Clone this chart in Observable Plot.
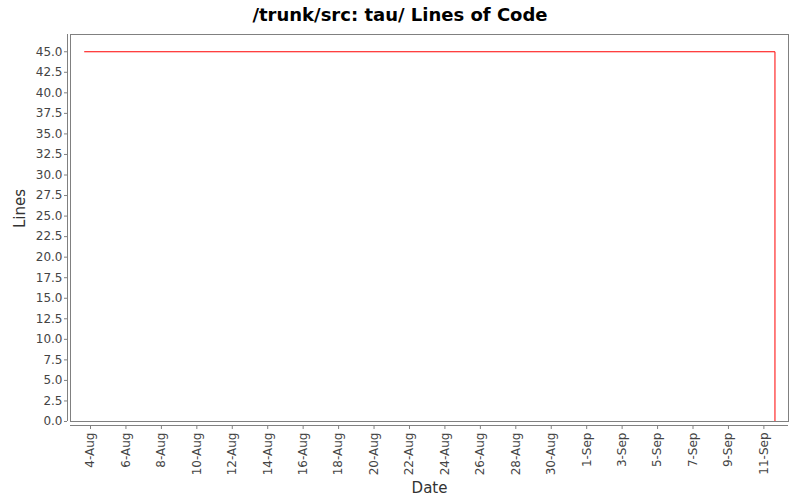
<!DOCTYPE html>
<html>
<head>
<meta charset="utf-8">
<script src="https://cdn.jsdelivr.net/npm/d3@7"></script>
<script src="https://cdn.jsdelivr.net/npm/@observablehq/plot@0.6"></script>
<style>
  html, body { margin: 0; padding: 0; background: #fff; }
  #title { box-sizing: border-box; height: 28px; padding-top: 4px; line-height: 24px; text-align: center; font: bold 18px "DejaVu Sans", sans-serif; color: #000; }
  #chart svg { display: block; }
</style>
</head>
<body>
<div id="title">/trunk/src: tau/ Lines of Code</div>
<div id="chart"></div>
<script>
// Data
const commitDates = ["2008-08-03T16:00:00Z", "2008-09-11T15:00:00Z"];
const linesOfCode = [45, 0];
const tickDates = ["2008-08-04","2008-08-06","2008-08-08","2008-08-10","2008-08-12","2008-08-14",
  "2008-08-16","2008-08-18","2008-08-20","2008-08-22","2008-08-24","2008-08-26","2008-08-28",
  "2008-08-30","2008-09-01","2008-09-03","2008-09-05","2008-09-07","2008-09-09","2008-09-11"];
const yTicks = [0,2.5,5,7.5,10,12.5,15,17.5,20,22.5,25,27.5,30,32.5,35,37.5,40,42.5,45];
const xDomain = ["2008-08-02T20:54:00Z", "2008-09-12T09:20:00Z"];
const yDomain = [0, 47.1];

const data = commitDates.map((d, i) => ({date: new Date(d), loc: linesOfCode[i]}));
const xd = xDomain.map(d => new Date(d));

const chart = Plot.plot({
  width: 800,
  height: 472,
  marginLeft: 70,
  marginRight: 12,
  marginTop: 6,
  marginBottom: 79,
  style: {fontFamily: "DejaVu Sans, sans-serif", fontSize: "12px", color: "#444", background: "#fff"},
  x: {type: "utc", domain: xd},
  y: {domain: yDomain},
  marks: [
    Plot.frame({stroke: "#808080"}),
    Plot.ruleX([xd[0]], {dx: -3, stroke: "#808080"}),
    Plot.ruleY([0], {dy: 4, stroke: "#808080"}),
    Plot.axisY({ticks: yTicks, tickFormat: d3.format(".1f"), dx: -3, tickSize: 3, tickPadding: 2, label: null, stroke: "#808080", fill: "#444"}),
    Plot.axisX({ticks: tickDates.map(d => new Date(d + "T00:00:00Z")), tickFormat: d3.utcFormat("%-d-%b"), tickRotate: -90, dy: 4, tickSize: 4, tickPadding: 3, label: null, stroke: "#808080", fill: "#444"}),
    Plot.text(["Lines"], {frameAnchor: "left", dx: -50, rotate: -90, fontSize: 15, fill: "#333"}),
    Plot.text(["Date"], {frameAnchor: "bottom", dy: 71, fontSize: 15, fill: "#333"}),
    Plot.line(data, {x: "date", y: "loc", curve: "step-after", stroke: "red", strokeWidth: 1, clip: true})
  ]
});
document.getElementById("chart").appendChild(chart);
</script>
</body>
</html>
